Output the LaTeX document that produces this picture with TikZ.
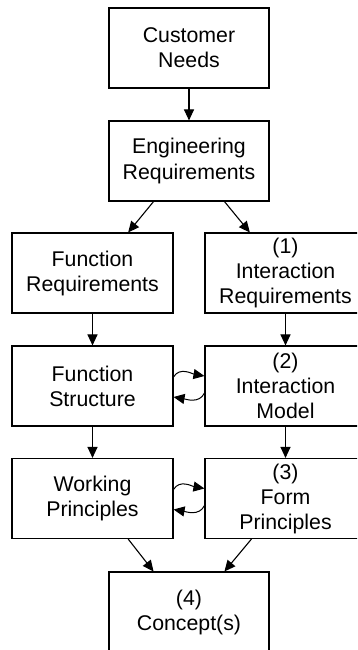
\documentclass[tikz,border=0pt]{standalone}
\usepackage{fontspec}
\setmainfont{Liberation Sans}
\usetikzlibrary{arrows.meta,calc}

\tikzset{
  x=1pt, y=1pt,
  box/.style={draw=black, line width=1.1pt, minimum width=161pt, minimum height=80pt,
              align=center, inner sep=0pt, font=\fontsize{21.3}{25}\selectfont},
  flow/.style={line width=1.1pt, -{Triangle[length=11pt,width=10pt]}},
  loop/.style={line width=1pt, -{Triangle[length=11pt,width=10pt]}}
}

\begin{document}
\begin{tikzpicture}
\useasboundingbox (0,0) rectangle (357,650);
\clip (0,0) rectangle (357,650);

% process steps
\node[box, minimum width=160pt] (cn) at (189,602) {Customer\\Needs};
\node[box, minimum width=160pt] (er) at (189,489) {Engineering\\Requirements};
\node[box] (fr) at (92.5,377) {Function\\Requirements};
\node[box] (ir) at (285.5,377) {(1)\\Interaction\\Requirements};
\node[box] (fs) at (92.5,264) {Function\\Structure};
\node[box] (im) at (285.5,264) {(2)\\Interaction\\Model};
\node[box] (wp) at (92.5,151.5) {Working\\Principles};
\node[box] (fp) at (285.5,151.5) {(3)\\Form\\Principles};
\node[box, minimum width=160pt] (cc) at (189,38) {(4)\\Concept(s)};

% straight flows
\draw[flow] (cn) -- (er);
\draw[flow] ($(er.south west)!0.28!(er.south east)$) -- ($(fr.north west)!0.72!(fr.north east)$);
\draw[flow] ($(er.south west)!0.72!(er.south east)$) -- ($(ir.north west)!0.28!(ir.north east)$);
\draw[flow] (fr) -- (fs);
\draw[flow] (ir) -- (im);
\draw[flow] (fs) -- (wp);
\draw[flow] (im) -- (fp);
\draw[flow] ($(wp.south west)!0.72!(wp.south east)$) -- ($(cc.north west)!0.28!(cc.north east)$);
\draw[flow] ($(fp.south west)!0.29!(fp.south east)$) -- ($(cc.north west)!0.72!(cc.north east)$);

% iteration loops between neighbouring steps
\draw[loop] ([yshift=9pt]fs.east) to[out=60,in=170] ([yshift=10pt]im.west);
\draw[loop] ([yshift=-7pt]im.west) to[out=-115,in=-10] ([yshift=-11pt]fs.east);
\draw[loop] ([yshift=9pt]wp.east) to[out=60,in=170] ([yshift=10pt]fp.west);
\draw[loop] ([yshift=-7pt]fp.west) to[out=-115,in=-10] ([yshift=-11pt]wp.east);
\end{tikzpicture}
\end{document}
